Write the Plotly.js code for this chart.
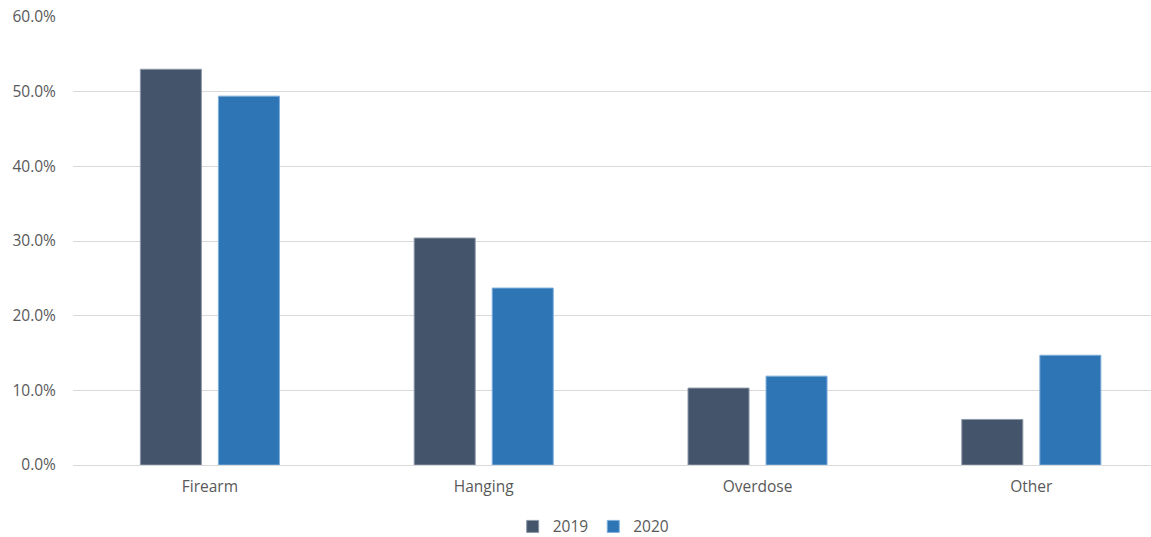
<!DOCTYPE html>
<html>
<head>
<meta charset="utf-8">
<script src="https://cdn.plot.ly/plotly-3.0.1.min.js"></script>
<style>html,body{margin:0;padding:0;background:#fff;}#chart{width:1151px;height:537px;}</style>
</head>
<body>
<div id="chart"></div>
<script>
const categories = ["Firearm", "Hanging", "Overdose", "Other"];
const series2019 = [53.0, 30.4, 10.3, 6.1];
const series2020 = [49.4, 23.7, 11.9, 14.7];
const seriesNames = ["2019", "2020"];
const yTicks = [0, 10, 20, 30, 40, 50, 60];

const font = {family: "Open Sans, Liberation Sans, sans-serif", size: 15.5, color: "#595959"};

const traces = [
  {type: "bar", name: seriesNames[0], x: categories, y: series2019,
   marker: {color: "#44546A", line: {color: "#8C97A8", width: 1}}, hoverinfo: "y"},
  {type: "bar", name: seriesNames[1], x: categories, y: series2020,
   marker: {color: "#2E75B6", line: {color: "#7FAEDB", width: 1}}, hoverinfo: "y"}
];

const layout = {
  width: 1151, height: 537,
  margin: {l: 73, r: 0, t: 17, b: 72, autoexpand: false},
  paper_bgcolor: "#fff", plot_bgcolor: "#fff",
  font: font,
  barmode: "group",
  bargap: 0.43,
  bargroupgap: 0.218,
  showlegend: true,
  legend: {orientation: "h", x: 0.483, xanchor: "center", y: -0.138, yanchor: "middle",
           font: font, itemwidth: 30, traceorder: "normal"},
  xaxis: {type: "category", range: [-0.5, 3.437], showgrid: false, zeroline: false,
          showline: true, linecolor: "#D9D9D9", linewidth: 1, automargin: false,
          ticks: "outside", ticklen: 7, tickcolor: "rgba(0,0,0,0)", tickfont: font},
  yaxis: {range: [0, 60], tickvals: yTicks, ticktext: yTicks.map(v => v.toFixed(1) + "%"),
          showgrid: true, gridcolor: "#D9D9D9", gridwidth: 1, zeroline: false, automargin: false,
          showline: false, ticks: "outside", ticklen: 13, tickcolor: "rgba(0,0,0,0)",
          tickfont: font}
};

Plotly.newPlot("chart", traces, layout, {displayModeBar: false, staticPlot: true});
</script>
</body>
</html>
